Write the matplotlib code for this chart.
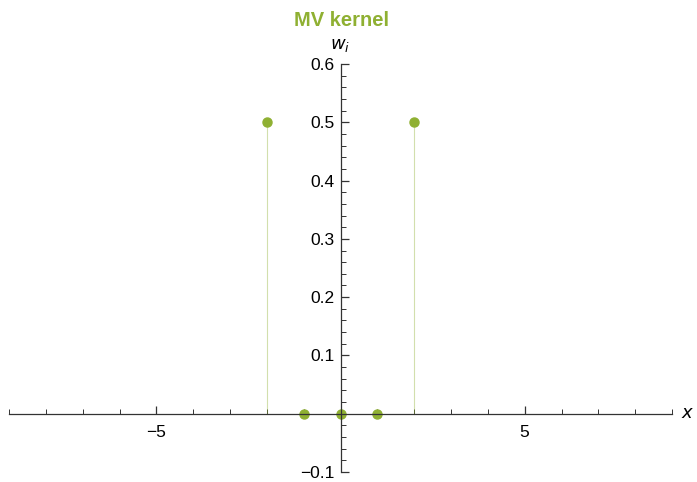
import numpy as np
import matplotlib
matplotlib.use('Agg')
import matplotlib.pyplot as plt
from matplotlib.ticker import MultipleLocator

# kernel weights
x_pos = [-2, -1, 0, 1, 2]
w_vals = [0.5, 0.0, 0.0, 0.0, 0.5]
x_ticks = [-5, 5]
y_ticks = [-0.1, 0.1, 0.2, 0.3, 0.4, 0.5, 0.6]

green = '#8FB032'

plt.rcParams['font.family'] = ['Liberation Sans', 'DejaVu Sans']

fig = plt.figure(figsize=(6.97, 4.82), dpi=100)
ax = fig.add_axes([9/697, 1 - 472/482, (672 - 9)/697, (472 - 64)/482])

# stems
for xi, wi in zip(x_pos, w_vals):
    if wi != 0:
        ax.plot([xi, xi], [0, wi], color=green, alpha=0.4, lw=0.8, zorder=2)
ax.plot(x_pos, w_vals, 'o', color=green, ms=6.5, zorder=4, clip_on=False)

ax.set_xlim(-9, 9)
ax.set_ylim(-0.1, 0.6)

for s in ['top', 'right']:
    ax.spines[s].set_visible(False)
ax.spines['left'].set_position(('data', 0))
ax.spines['bottom'].set_position(('data', 0))
for s in ['left', 'bottom']:
    ax.spines[s].set_linewidth(0.9)
    ax.spines[s].set_color('#333333')
    ax.spines[s].set_zorder(5)

ax.set_xticks(x_ticks)
ax.set_xticklabels(['\u22125', '5'])
ax.xaxis.set_minor_locator(MultipleLocator(1))
ax.set_yticks(y_ticks)
ax.set_yticklabels(['\u22120.1'] + ['%.1f' % v for v in y_ticks[1:]])
ax.yaxis.set_minor_locator(MultipleLocator(0.02))

ax.tick_params(axis='both', which='major', direction='in', length=6, width=0.9,
               color='#333333', labelsize=12.5, pad=4)
ax.tick_params(axis='both', which='minor', direction='in', length=3.5, width=0.7,
               color='#333333')
ax.tick_params(axis='x', which='major', pad=8)
ax.patch.set_visible(False)

ax.text(9.25, 0, '$x$', fontsize=13, va='center', ha='left')
ax.text(0, 0.618, '$w_i$', fontsize=13, va='bottom', ha='center')
fig.text(341/697, 1 - 20/482, 'MV kernel', color=green, fontsize=14.5,
         fontweight='bold', ha='center', va='center')

fig.savefig('out.png', dpi=100)
